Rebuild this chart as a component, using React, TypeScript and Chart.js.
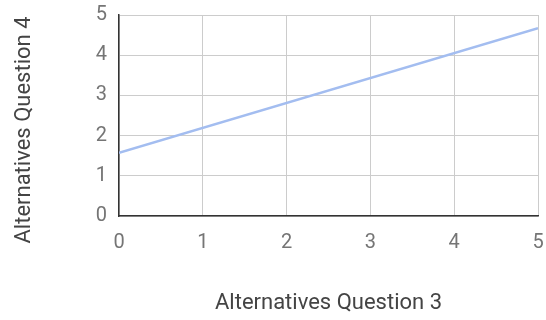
import React, { useEffect, useRef } from "react";
import { Chart, registerables } from "chart.js";

Chart.register(...registerables);

const xValues = [0, 5];
const yValues = [1.57, 4.67];
const tickValues = [0, 1, 2, 3, 4, 5];
const xTitle = "Alternatives Question 3";
const yTitle = "Alternatives Question 4";

const yTitlePlugin = {
  id: "yTitlePlugin",
  afterDraw(chart: any) {
    const ctx = chart.ctx;
    ctx.save();
    ctx.translate(24, 130);
    ctx.rotate(-Math.PI / 2);
    ctx.font = "22px Roboto";
    ctx.fillStyle = "#444444";
    ctx.textAlign = "center";
    ctx.textBaseline = "middle";
    ctx.fillText(yTitle, 0, 0);
    ctx.restore();
  },
};

export default function App() {
  const ref = useRef<HTMLCanvasElement>(null);
  useEffect(() => {
    document.body.style.margin = "0";
    const ctx = ref.current!;
    const chart = new Chart(ctx, {
      type: "scatter",
      data: {
        datasets: [
          {
            data: xValues.map((x, i) => ({ x, y: yValues[i] })),
            showLine: true,
            borderColor: "#a3bdf0",
            borderWidth: 2.5,
            pointRadius: 0,
            fill: false,
          },
        ],
      },
      plugins: [yTitlePlugin],
      options: {
        animation: false,
        responsive: false,
        layout: { padding: { top: 15, right: 8, left: 0, bottom: 0 } },
        plugins: { legend: { display: false }, tooltip: { enabled: false } },
        scales: {
          x: {
            type: "linear",
            min: 0,
            max: 5,
            afterBuildTicks: (s: any) => {
              s.ticks = tickValues.map((v) => ({ value: v }));
            },
            afterFit: (s: any) => {
              s.height = 104;
              s.paddingLeft = 0;
              s.paddingRight = 0;
            },
            grid: { color: "#cccccc", lineWidth: 1, drawTicks: false },
            border: { color: "#333333", width: 1.5 },
            ticks: {
              color: "#757575",
              font: { family: "Roboto", size: 20 },
              padding: 15,
              maxRotation: 0,
            },
            title: {
              display: true,
              text: xTitle,
              color: "#444444",
              font: { family: "Roboto", size: 22 },
              padding: { top: 0, bottom: 3 },
            },
          },
          y: {
            type: "linear",
            min: 0,
            max: 5,
            afterBuildTicks: (s: any) => {
              s.ticks = tickValues.map((v) => ({ value: v }));
            },
            afterFit: (s: any) => {
              s.width = 119;
              s.paddingTop = 0;
              s.paddingBottom = 0;
            },
            grid: { color: "#cccccc", lineWidth: 1, drawTicks: false },
            border: { color: "#333333", width: 1.5 },
            ticks: {
              color: "#757575",
              font: { family: "Roboto", size: 20 },
              padding: 12,
            },
            title: { display: false, text: yTitle },
          },
        },
      },
    });
    return () => chart.destroy();
  }, []);
  return (
    <div style={{ width: 546, height: 320 }}>
      <canvas ref={ref} width={546} height={320} />
    </div>
  );
}
